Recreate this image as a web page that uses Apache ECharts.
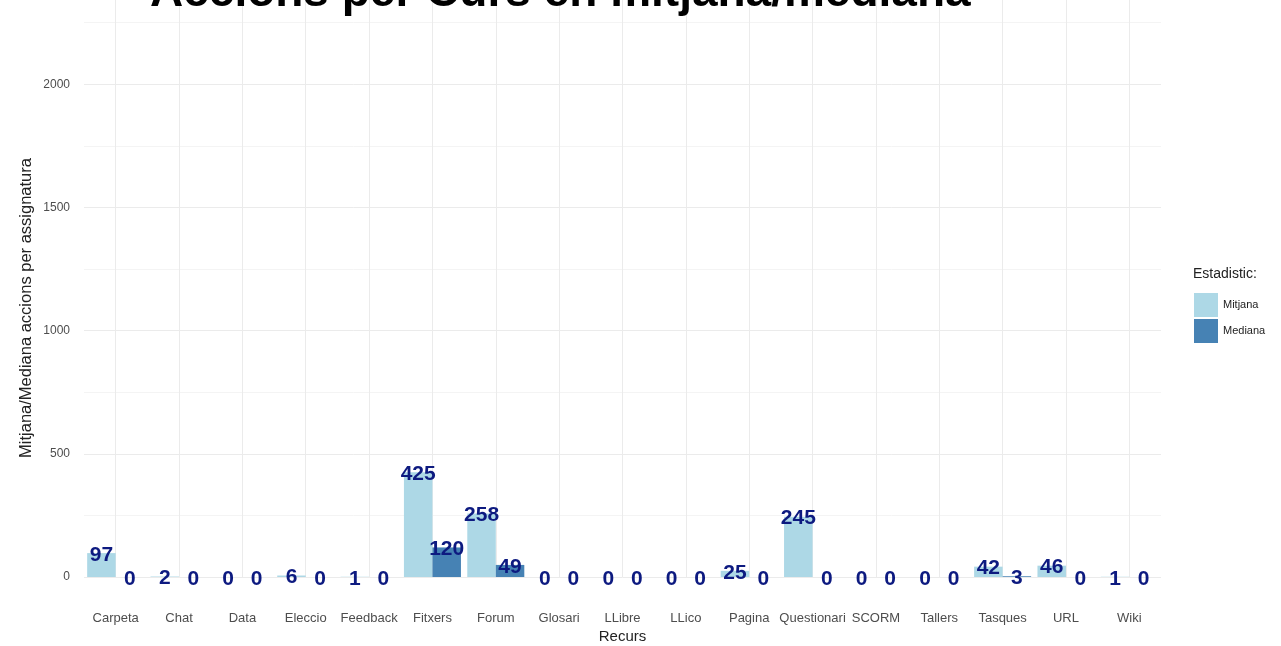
<!DOCTYPE html>
<html>
<head>
<meta charset="utf-8">
<script src="https://cdn.jsdelivr.net/npm/echarts@6/dist/echarts.min.js"></script>
<style>
    html, body {margin: 0; padding: 0; background: #fff;}
    #chart {width: 1281px; height: 646px;}
</style>
</head>
<body>
<div id="chart"></div>
<script>
// recursos (eix x)
var recursos = ['Carpeta', 'Chat', 'Data', 'Eleccio', 'Feedback', 'Fitxers', 'Forum', 'Glosari', 'LLibre',
    'LLico', 'Pagina', 'Questionari', 'SCORM', 'Tallers', 'Tasques', 'URL', 'Wiki']
// valors llegits del grafic
var mitjana = [97, 2, 0, 6, 1, 425, 258, 0, 0, 0, 25, 245, 0, 0, 42, 46, 1]
var mediana = [0, 0, 0, 0, 0, 120, 49, 0, 0, 0, 0, 0, 0, 0, 3, 0, 0]
var yTicks = [0, 500, 1000, 1500, 2000]

var labelStyle = {
    show: true,
    position: 'top',
    distance: -2,
    verticalAlign: 'middle',
    color: '#0d1a80',
    fontSize: 21,
    fontWeight: 'bold',
    fontFamily: 'Liberation Sans'
}

echarts.init(document.querySelector('#chart')).setOption({
    animation: false,
    backgroundColor: '#fff',
    textStyle: {fontFamily: 'Liberation Sans'},
    title: [{
        text: 'Accions per Curs en mitjana/mediana',
        left: 150,
        top: -30,
        padding: 0,
        textStyle: {fontSize: 46, fontWeight: 'bold', color: '#000', fontFamily: 'Liberation Sans'}
    }, {
        text: 'Estadistic:',
        left: 1193,
        top: 267,
        padding: 0,
        textStyle: {fontSize: 14, fontWeight: 'normal', color: '#222'}
    }],
    legend: {
        orient: 'vertical',
        left: 1194,
        top: 293,
        padding: 0,
        icon: 'rect',
        itemWidth: 24,
        itemHeight: 24,
        itemGap: 2,
        textStyle: {fontSize: 11, color: '#222'},
        data: ['Mitjana', 'Mediana']
    },
    grid: {
        left: 84,
        right: 120,
        top: -39,
        bottom: 69,
        containLabel: false,
        outerBoundsMode: 'none'
    },
    xAxis: {
        type: 'category',
        data: recursos,
        name: 'Recurs',
        nameLocation: 'middle',
        nameGap: 52,
        nameMoveOverlap: false,
        nameTextStyle: {fontSize: 15, color: '#222'},
        axisLine: {show: false},
        axisTick: {show: false},
        axisLabel: {margin: 35, fontSize: 13, color: '#4d4d4d', interval: 0},
        splitLine: {show: true, alignWithLabel: true, lineStyle: {color: '#ebebeb', width: 1}}
    },
    yAxis: {
        type: 'value',
        min: 0,
        max: 2500,
        interval: 500,
        name: 'Mitjana/Mediana accions per assignatura',
        nameLocation: 'middle',
        nameGap: 49,
        nameMoveOverlap: false,
        nameTextStyle: {fontSize: 16.5, color: '#222', padding: [0, 78, 0, 0]},
        axisLine: {show: false},
        axisTick: {show: false},
        axisLabel: {
            margin: 14, fontSize: 12, color: '#4d4d4d',
            formatter: function (v) {
                return yTicks.indexOf(v) >= 0 ? String(v) : ''
            }
        },
        splitLine: {lineStyle: {color: '#ebebeb', width: 1}},
        minorTick: {show: false, splitNumber: 2},
        minorSplitLine: {show: true, lineStyle: {color: '#f4f4f4', width: 1}}
    },
    series: [{
        name: 'Mitjana',
        type: 'bar',
        data: mitjana,
        barGap: '0%',
        barCategoryGap: '10%',
        itemStyle: {color: '#add8e6'},
        label: labelStyle
    }, {
        name: 'Mediana',
        type: 'bar',
        data: mediana,
        barGap: '0%',
        barCategoryGap: '10%',
        itemStyle: {color: '#4682b4'},
        label: labelStyle
    }]
})
</script>
</body>
</html>
